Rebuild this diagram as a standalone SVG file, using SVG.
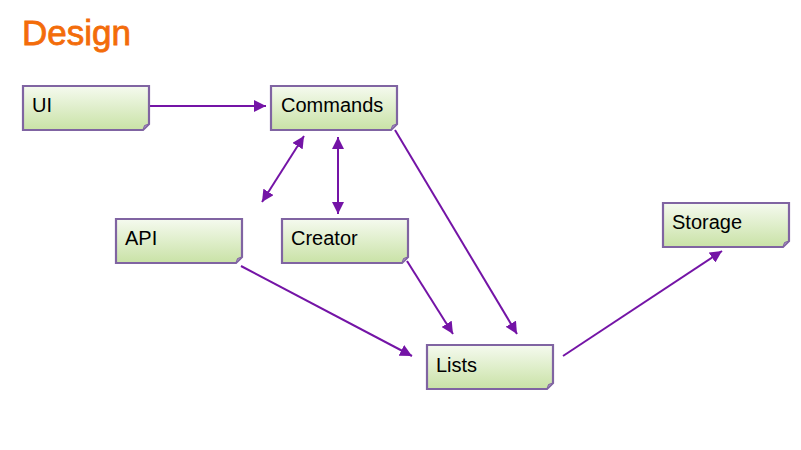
<svg xmlns="http://www.w3.org/2000/svg" width="801" height="450" viewBox="0 0 801 450">
<style>
.box{fill:url(#g);stroke:#8064a2;stroke-width:2.2;}
.fold{fill:#a38ac0;stroke:#8064a2;stroke-width:1;}
.lbl{font-family:"Liberation Sans",Arial,sans-serif;font-size:20px;fill:#000;}
.title{font-family:"Liberation Sans",Arial,sans-serif;font-size:35px;fill:#f36c0a;stroke:#f36c0a;stroke-width:0.8;}
.c{stroke:#7414a6;stroke-width:2;fill:none;}
</style>
<defs>
<linearGradient id="g" x1="0" y1="0" x2="0" y2="1">
<stop offset="0" stop-color="#f5faef"/>
<stop offset="1" stop-color="#c9e2a6"/>
</linearGradient>
<marker id="a" markerUnits="userSpaceOnUse" markerWidth="12" markerHeight="12" viewBox="0 0 10 10" refX="10" refY="5" orient="auto-start-reverse">
<path d="M0,0 L10,5 L0,10 z" fill="#7414a6"/>
</marker>
<path id="nb" d="M0,0 H126 V38 L120,44 H0 Z"/>
</defs>
<rect width="801" height="450" fill="#fff"/>
<text class="title" x="22" y="45">Design</text>
<g id="connectors">
<line class="c" x1="150" y1="106" x2="266" y2="106" marker-end="url(#a)"/>
<line class="c" x1="304" y1="136" x2="262" y2="202" marker-start="url(#a)" marker-end="url(#a)"/>
<line class="c" x1="338" y1="137" x2="338" y2="214" marker-start="url(#a)" marker-end="url(#a)"/>
<line class="c" x1="395" y1="130" x2="517" y2="334" marker-end="url(#a)"/>
<line class="c" x1="407" y1="261" x2="453" y2="334" marker-end="url(#a)"/>
<line class="c" x1="241" y1="266" x2="412" y2="356" marker-end="url(#a)"/>
<line class="c" x1="563" y1="356" x2="722" y2="251" marker-end="url(#a)"/>
</g>
<g id="ui" transform="translate(23,86)">
<use href="#nb" class="box"/><path class="fold" d="M120,44 L121.5,39.5 L126,38 Z"/>
<text class="lbl" x="9" y="26">UI</text>
</g>
<g id="commands" transform="translate(271,86)">
<use href="#nb" class="box"/><path class="fold" d="M120,44 L121.5,39.5 L126,38 Z"/>
<text class="lbl" x="10" y="26">Commands</text>
</g>
<g id="api" transform="translate(116,219)">
<use href="#nb" class="box"/><path class="fold" d="M120,44 L121.5,39.5 L126,38 Z"/>
<text class="lbl" x="9" y="26">API</text>
</g>
<g id="creator" transform="translate(282,219)">
<use href="#nb" class="box"/><path class="fold" d="M120,44 L121.5,39.5 L126,38 Z"/>
<text class="lbl" x="9" y="26">Creator</text>
</g>
<g id="storage" transform="translate(663,203)">
<use href="#nb" class="box"/><path class="fold" d="M120,44 L121.5,39.5 L126,38 Z"/>
<text class="lbl" x="9" y="26">Storage</text>
</g>
<g id="lists" transform="translate(427,345)">
<use href="#nb" class="box"/><path class="fold" d="M120,44 L121.5,39.5 L126,38 Z"/>
<text class="lbl" x="9" y="27">Lists</text>
</g>
</svg>
